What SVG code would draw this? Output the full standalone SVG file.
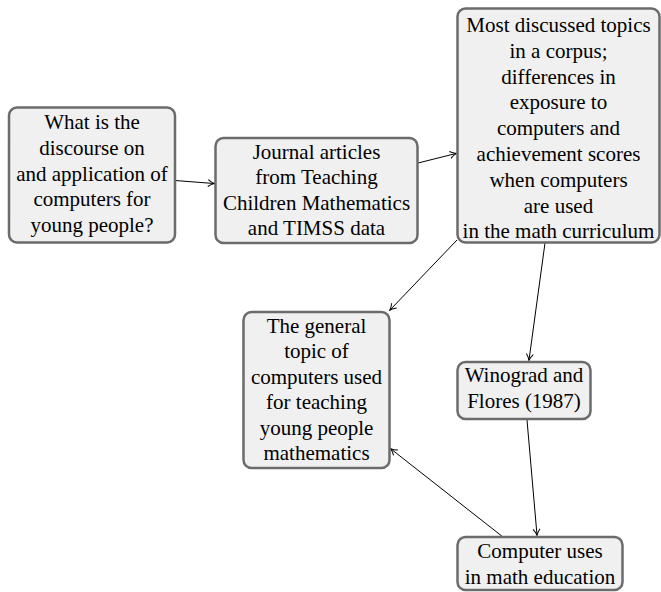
<svg xmlns="http://www.w3.org/2000/svg" width="661" height="592" viewBox="0 0 661 592">
<style>
.box{fill:#f0f0f0;stroke:#6b6b6b;stroke-width:2.5}
.t{font-family:'Liberation Serif','Times New Roman',serif;font-size:21px;fill:#000;text-anchor:middle}
.c{fill:none;stroke:#000;stroke-width:1;marker-end:url(#ah)}
</style>
<defs>
<marker id="ah" markerWidth="10" markerHeight="10" refX="8" refY="5" orient="auto" markerUnits="userSpaceOnUse">
<path d="M2,1.5 Q5,4 8.5,5 Q5,6 2,8.5" fill="none" stroke="#000" stroke-width="1"/>
</marker>
</defs>
<g id="connectors">
<line class="c" x1="175" y1="180.5" x2="214" y2="183.5"/>
<line class="c" x1="418" y1="163" x2="456" y2="153.5"/>
<line class="c" x1="457" y1="240" x2="390" y2="310"/>
<line class="c" x1="545" y1="243" x2="529" y2="360"/>
<line class="c" x1="527" y1="420" x2="537" y2="535"/>
<line class="c" x1="503" y1="537" x2="391" y2="449"/>
</g>
<g id="n1">
<rect class="box" x="9" y="107.5" width="166" height="135" rx="8"/>
<text class="t"><tspan x="92" y="129">What is the</tspan><tspan x="92" y="154.8">discourse on</tspan><tspan x="92" y="180.6">and application of</tspan><tspan x="92" y="206.4">computers for</tspan><tspan x="92" y="232.2">young people?</tspan></text>
</g>
<g id="n2">
<rect class="box" x="215.5" y="138" width="202" height="105" rx="8"/>
<text class="t"><tspan x="316.5" y="158.5">Journal articles</tspan><tspan x="316.5" y="184">from Teaching</tspan><tspan x="316.5" y="209.5">Children Mathematics</tspan><tspan x="316.5" y="235">and TIMSS data</tspan></text>
</g>
<g id="n3">
<rect class="box" x="457.5" y="8.5" width="202" height="234" rx="8"/>
<text class="t"><tspan x="558.5" y="32">Most discussed topics</tspan><tspan x="558.5" y="57.8">in a corpus;</tspan><tspan x="558.5" y="83.6">differences in</tspan><tspan x="558.5" y="109.4">exposure to</tspan><tspan x="558.5" y="135.2">computers and</tspan><tspan x="558.5" y="161">achievement scores</tspan><tspan x="558.5" y="186.8">when computers</tspan><tspan x="558.5" y="212.6">are used</tspan><tspan x="558.5" y="238.4">in the math curriculum</tspan></text>
</g>
<g id="n4">
<rect class="box" x="243.5" y="312" width="146" height="156" rx="8"/>
<text class="t"><tspan x="316.5" y="333">The general</tspan><tspan x="316.5" y="358.4">topic of</tspan><tspan x="316.5" y="383.8">computers used</tspan><tspan x="316.5" y="409.2">for teaching</tspan><tspan x="316.5" y="434.6">young people</tspan><tspan x="316.5" y="460">mathematics</tspan></text>
</g>
<g id="n5">
<rect class="box" x="457.5" y="362" width="133" height="57" rx="8"/>
<text class="t"><tspan x="524" y="382">Winograd and</tspan><tspan x="524" y="408">Flores (1987)</tspan></text>
</g>
<g id="n6">
<rect class="box" x="457.5" y="537" width="165" height="53" rx="8"/>
<text class="t"><tspan x="540" y="558">Computer uses</tspan><tspan x="540" y="583.5">in math education</tspan></text>
</g>
</svg>
